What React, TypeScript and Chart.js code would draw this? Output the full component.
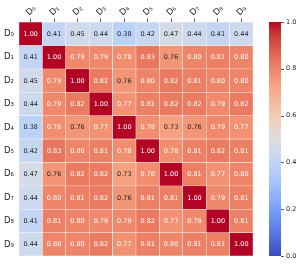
import React, { useEffect, useRef } from "react";
import { Chart, registerables } from "chart.js";

Chart.register(...registerables);

const labels = ["D₀", "D₁", "D₂", "D₃", "D₄", "D₅", "D₆", "D₇", "D₈", "D₉"];

const row0 = [1.0, 0.41, 0.45, 0.44, 0.38, 0.42, 0.47, 0.44, 0.41, 0.44];
const row1 = [0.41, 1.0, 0.79, 0.79, 0.78, 0.83, 0.76, 0.8, 0.81, 0.8];
const row2 = [0.45, 0.79, 1.0, 0.82, 0.76, 0.8, 0.82, 0.81, 0.8, 0.8];
const row3 = [0.44, 0.79, 0.82, 1.0, 0.77, 0.81, 0.82, 0.82, 0.79, 0.82];
const row4 = [0.38, 0.78, 0.76, 0.77, 1.0, 0.78, 0.73, 0.76, 0.79, 0.77];
const row5 = [0.42, 0.83, 0.8, 0.81, 0.78, 1.0, 0.78, 0.81, 0.82, 0.81];
const row6 = [0.47, 0.76, 0.82, 0.82, 0.73, 0.78, 1.0, 0.81, 0.77, 0.8];
const row7 = [0.44, 0.8, 0.81, 0.82, 0.76, 0.81, 0.81, 1.0, 0.79, 0.81];
const row8 = [0.41, 0.81, 0.8, 0.79, 0.79, 0.82, 0.77, 0.79, 1.0, 0.81];
const row9 = [0.44, 0.8, 0.8, 0.82, 0.77, 0.81, 0.8, 0.81, 0.81, 1.0];
const matrix = [row0, row1, row2, row3, row4, row5, row6, row7, row8, row9];

const colorbarMin = 0;
const colorbarMax = 1;
const colorbarStep = 0.2;

// coolwarm colormap control points (33 evenly spaced stops)
const coolwarm: [number, number, number][] = [
  [59, 76, 192], [68, 90, 204], [77, 104, 215], [87, 117, 225],
  [98, 130, 234], [108, 142, 241], [119, 154, 247], [130, 165, 251],
  [141, 176, 254], [152, 185, 255], [163, 194, 255], [174, 201, 253],
  [184, 208, 249], [194, 213, 244], [204, 217, 238], [213, 219, 230],
  [221, 221, 221], [229, 216, 209], [236, 211, 197], [241, 204, 184],
  [245, 196, 172], [247, 187, 159], [247, 177, 147], [247, 166, 134],
  [244, 154, 123], [241, 141, 111], [236, 127, 99], [229, 112, 89],
  [222, 96, 77], [213, 80, 67], [203, 62, 56], [192, 40, 47],
  [180, 4, 38],
];

function cwRGB(v: number): [number, number, number] {
  const t = Math.max(0, Math.min(1, (v - colorbarMin) / (colorbarMax - colorbarMin))) * (coolwarm.length - 1);
  const i = Math.min(coolwarm.length - 2, Math.floor(t));
  const f = t - i;
  const a = coolwarm[i];
  const b = coolwarm[i + 1];
  return [0, 1, 2].map((k) => a[k] + (b[k] - a[k]) * f) as [number, number, number];
}
function rgbStr(c: [number, number, number]) {
  return `rgb(${Math.round(c[0])},${Math.round(c[1])},${Math.round(c[2])})`;
}
function luminance(c: [number, number, number]) {
  const lin = c.map((x) => {
    const s = x / 255;
    return s <= 0.03928 ? s / 12.92 : Math.pow((s + 0.055) / 1.055, 2.4);
  });
  return 0.2126 * lin[0] + 0.7152 * lin[1] + 0.0722 * lin[2];
}

const FONT = "'DejaVu Sans', sans-serif";
const TEXT = "#262626";

export default function App() {
  const canvasRef = useRef<HTMLCanvasElement | null>(null);

  useEffect(() => {
    if (!canvasRef.current) return;

    const overlay = {
      id: "heatOverlay",
      afterDatasetsDraw(chart: any) {
        const ctx = chart.ctx;
        ctx.save();
        ctx.font = `6.5px ${FONT}`;
        ctx.textAlign = "center";
        ctx.textBaseline = "middle";
        matrix.forEach((row, r) => {
          const meta = chart.getDatasetMeta(r);
          row.forEach((v, c) => {
            const el = meta.data[c];
            if (!el) return;
            const p = el.getProps(["x", "y", "base"], true);
            const col = cwRGB(v);
            ctx.fillStyle = luminance(col) > 0.408 ? TEXT : "#ffffff";
            ctx.fillText(v.toFixed(2), p.x, (p.y + p.base) / 2 + 0.5);
          });
        });

        // rotated top tick labels (matplotlib-style: rotated box centred on tick)
        const xs = chart.scales.x;
        ctx.font = `8.5px ${FONT}`;
        ctx.fillStyle = TEXT;
        const baseY = chart.chartArea.top - 3.5 - 1.5;
        labels.forEach((lab, i) => {
          const px = xs.getPixelForValue(i);
          const w = ctx.measureText(lab).width;
          const h = 8.5 * 0.9;
          const boxH = (w + h) * Math.SQRT1_2;
          ctx.save();
          ctx.translate(px + 0.5, baseY - boxH / 2);
          ctx.rotate(-Math.PI / 4);
          ctx.textAlign = "center";
          ctx.textBaseline = "middle";
          ctx.fillText(lab, 0, 0);
          ctx.restore();
        });

        // colorbar
        const s = chart.scales.y2;
        const yTop = s.getPixelForValue(colorbarMax);
        const yBot = s.getPixelForValue(colorbarMin);
        const x0 = s.left + 16;
        const bw = 12;
        const g = ctx.createLinearGradient(0, yBot, 0, yTop);
        coolwarm.forEach((c, i) => g.addColorStop(i / (coolwarm.length - 1), rgbStr(c)));
        ctx.fillStyle = g;
        ctx.fillRect(x0, yTop, bw, yBot - yTop);
        ctx.strokeStyle = "#333333";
        ctx.lineWidth = 0.8;
        s.ticks.forEach((t: any) => {
          const py = Math.round(s.getPixelForValue(t.value)) + 0.5;
          ctx.beginPath();
          ctx.moveTo(x0 + bw, py);
          ctx.lineTo(x0 + bw + 3, py);
          ctx.stroke();
        });
        ctx.restore();
      },
    };

    const chart = new Chart(canvasRef.current, {
      type: "bar",
      data: {
        labels,
        datasets: matrix.map((row, r) => ({
          label: labels[r],
          data: row.map(() => 1),
          backgroundColor: row.map((v) => rgbStr(cwRGB(v))),
          borderColor: "#ffffff",
          borderWidth: 0.5,
          borderSkipped: false,
          barPercentage: 1,
          categoryPercentage: 1,
          yAxisID: "y",
        })),
      },
      options: {
        animation: false,
        responsive: false,
        devicePixelRatio: 1,
        layout: { padding: { top: 0, left: 0, right: 0, bottom: 8 } },
        plugins: { legend: { display: false }, tooltip: { enabled: false } },
        events: [],
        scales: {
          x: {
            type: "category",
            position: "top",
            stacked: true,
            offset: true,
            grid: {
              display: true,
              drawOnChartArea: false,
              offset: false,
              tickLength: 3.5,
              tickWidth: 0.8,
              tickColor: "#333333",
            },
            border: { display: false },
            ticks: {
              minRotation: 0,
              maxRotation: 0,
              autoSkip: false,
              color: "rgba(0,0,0,0)",
              font: { family: FONT, size: 8.5 },
            },
            afterFit: (s: any) => {
              s.height = 22;
              s.paddingLeft = 0;
              s.paddingRight = 0;
            },
          },
          y: {
            type: "linear",
            stacked: true,
            reverse: true,
            min: 0,
            max: matrix.length,
            grid: { display: false, drawTicks: false },
            border: { display: false },
            afterBuildTicks: (s: any) => {
              s.ticks = labels.map((_, i) => ({ value: i + 0.5 }));
            },
            ticks: {
              padding: 5,
              color: TEXT,
              font: { family: FONT, size: 8.5 },
              callback: (v: any) => labels[Math.floor(Number(v))],
            },
            afterFit: (s: any) => {
              s.width = 19;
              s.paddingTop = 0;
              s.paddingBottom = 0;
            },
          },
          y2: {
            type: "linear",
            position: "right",
            min: colorbarMin,
            max: colorbarMax,
            grid: { display: false, drawTicks: false },
            border: { display: false },
            ticks: {
              stepSize: colorbarStep,
              padding: 33,
              color: TEXT,
              font: { family: FONT, size: 6.5 },
              callback: (v: any) => Number(v).toFixed(1),
            },
            afterFit: (s: any) => {
              s.width = 46;
              s.paddingTop = 0;
              s.paddingBottom = 0;
            },
          },
        },
      },
      plugins: [overlay],
    });

    return () => chart.destroy();
  }, []);

  return (
    <div style={{ position: "fixed", left: 0, top: 0, width: 299, height: 264, background: "#ffffff" }}>
      <canvas ref={canvasRef} width={299} height={264} style={{ width: 299, height: 264, display: "block" }} />
    </div>
  );
}
